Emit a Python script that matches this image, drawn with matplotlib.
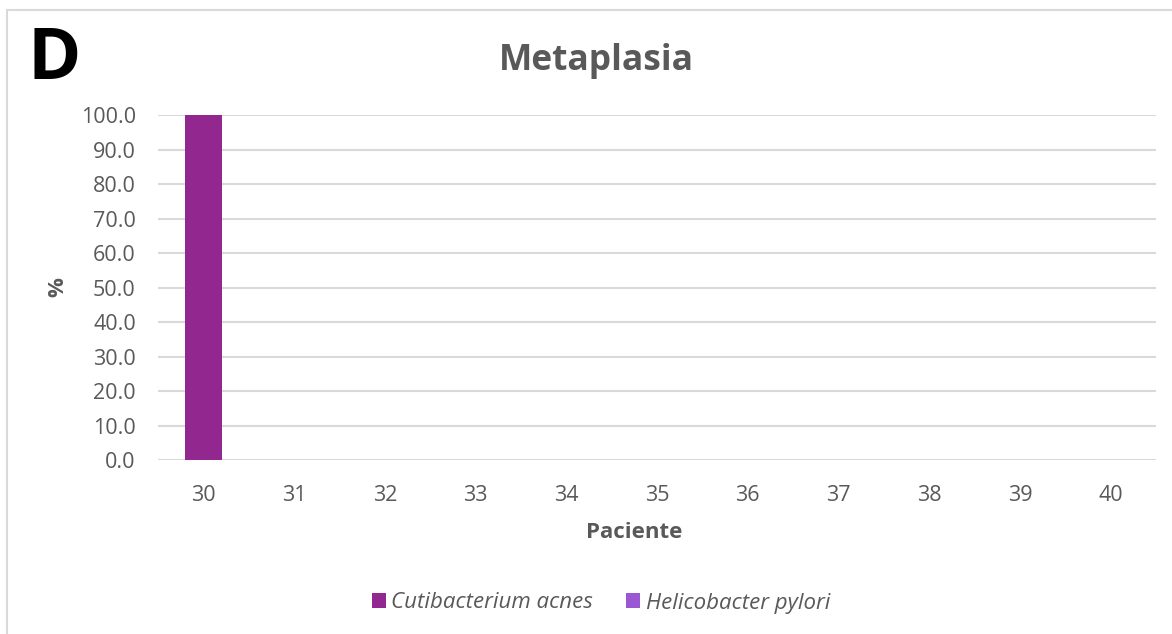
import matplotlib.pyplot as plt
import numpy as np
from matplotlib.patches import Rectangle

# Metaplasia group: relative abundance per patient
pacientes = ['30', '31', '32', '33', '34', '35', '36', '37', '38', '39', '40']
cutibacterium = [100.0, 0, 0, 0, 0, 0, 0, 0, 0, 0, 0]
helicobacter = [0, 0, 0, 0, 0, 0, 0, 0, 0, 0, 0]

plt.rcParams['font.family'] = ['Open Sans', 'DejaVu Sans']

fig = plt.figure(figsize=(11.72, 6.34), dpi=100)
W, H = 1172, 634
ax = fig.add_axes([158 / W, 1 - 460 / H, (1156 - 158) / W, (460 - 115) / H])

x = np.arange(len(pacientes))
ax.bar(x, cutibacterium, width=0.41, color='#92278F', label='Cutibacterium acnes', zorder=3)
ax.bar(x, helicobacter, width=0.41, bottom=cutibacterium, color='#9B57D3',
       label='Helicobacter pylori', zorder=3)

ax.set_xlim(-0.5, len(pacientes) - 0.5)
ax.set_ylim(0, 100)
ax.set_yticks(np.arange(0, 101, 10))
ax.set_yticklabels([f'{v:.1f}' for v in np.arange(0, 101, 10)])
ax.set_xticks(x)
ax.set_xticklabels(pacientes)
ax.yaxis.grid(True, color='#D9D9D9', linewidth=1.5, zorder=0)
ax.set_axisbelow(True)
for s in ax.spines.values():
    s.set_visible(False)
ax.tick_params(length=0, labelsize=15.5, labelcolor='#595959')
ax.tick_params(axis='x', pad=18)
ax.tick_params(axis='y', pad=16)

ax.set_xlabel('Paciente', fontsize=16, fontweight='bold', color='#595959')
ax.set_ylabel('%', fontsize=16, fontweight='bold', color='#595959')
ax.xaxis.label.set_va('center')
ax.yaxis.label.set_va('center')
ax.xaxis.set_label_coords((634 - 158) / 998, (460 - 532) / 345)
ax.yaxis.set_label_coords((58 - 158) / 998, (460 - 287) / 345)

fig.text(596 / W, 1 - 61 / H, 'Metaplasia', ha='center', va='center',
         fontsize=25.5, fontweight='bold', color='#595959')
fig.text(27 / W, 1 - 60 / H, 'D', ha='left', va='center',
         fontsize=52, fontweight='bold', color='black')

leg = fig.legend(loc='center', bbox_to_anchor=(601 / W, 1 - 603 / H), ncol=2,
                 frameon=False, handlelength=0.63, handleheight=0.63,
                 handletextpad=0.25, columnspacing=1.5,
                 prop={'size': 16, 'style': 'italic'})
for t in leg.get_texts():
    t.set_color('#595959')

# outer chart frame
fig.patches.append(Rectangle((7 / W, -0.1), 1.2, 1 - 9.5 / H + 0.1, transform=fig.transFigure,
                             fill=False, edgecolor='#D9D9D9', linewidth=1.5))

fig.savefig('out.png', dpi=100)
